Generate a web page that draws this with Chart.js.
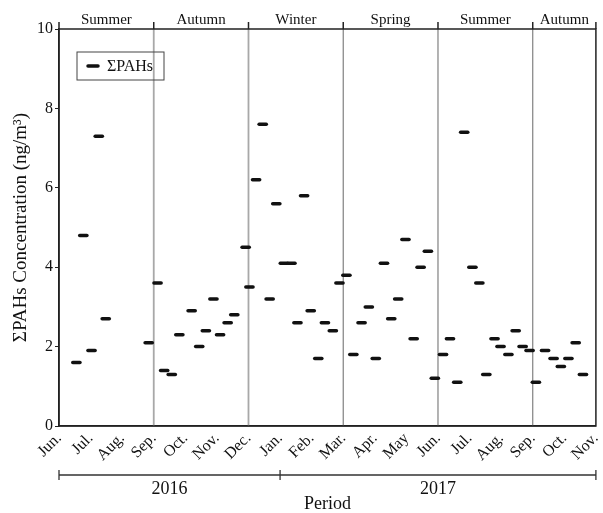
<!DOCTYPE html>
<html>
<head>
<meta charset="utf-8">
<script src="https://cdn.jsdelivr.net/npm/chart.js@4.4.1/dist/chart.umd.min.js"></script>
<style>
  html, body { margin: 0; padding: 0; background: #fff; }
  #wrap { width: 603px; height: 513px; }
</style>
</head>
<body>
<div id="wrap"><canvas id="grafico-pahs"></canvas></div>
<script>
// month index 0 = Jun. 2016 ... 17 = Nov. 2017
const monthLabels = ['Jun.', 'Jul.', 'Aug.', 'Sep.', 'Oct.', 'Nov.', 'Dec.', 'Jan.', 'Feb.',
    'Mar.', 'Apr.', 'May', 'Jun.', 'Jul.', 'Aug.', 'Sep.', 'Oct.', 'Nov.'];
const seasonNames = ['Summer', 'Autumn', 'Winter', 'Spring', 'Summer', 'Autumn'];
const seasonBounds = [0, 3, 6, 9, 12, 15, 17];
const yearNames = ['2016', '2017'];
const yearBounds = [0, 7, 17];
const yTicks = [0, 2, 4, 6, 8, 10];

// sampling time (month index) and ΣPAHs (ng/m3)
const sampleMonth = [0.55, 0.77, 1.03, 1.26, 1.48, 2.84, 3.12, 3.33, 3.57, 3.81, 4.20, 4.44,
    4.65, 4.89, 5.10, 5.34, 5.55, 5.91, 6.03, 6.24, 6.45, 6.67, 6.88, 7.12, 7.36, 7.55,
    7.76, 7.97, 8.21, 8.42, 8.67, 8.88, 9.10, 9.32, 9.58, 9.81, 10.03, 10.29, 10.52,
    10.74, 10.97, 11.23, 11.45, 11.68, 11.90, 12.16, 12.38, 12.61, 12.83, 13.09, 13.31,
    13.53, 13.79, 13.98, 14.23, 14.46, 14.68, 14.90, 15.10, 15.39, 15.66, 15.89, 16.13,
    16.36, 16.59];
const pahValues = [1.6, 4.8, 1.9, 7.3, 2.7, 2.1, 3.6, 1.4, 1.3, 2.3, 2.9, 2.0,
    2.4, 3.2, 2.3, 2.6, 2.8, 4.5, 3.5, 6.2, 7.6, 3.2, 5.6, 4.1, 4.1, 2.6,
    5.8, 2.9, 1.7, 2.6, 2.4, 3.6, 3.8, 1.8, 2.6, 3.0, 1.7, 4.1, 2.7,
    3.2, 4.7, 2.2, 4.0, 4.4, 1.2, 1.8, 2.2, 1.1, 7.4, 4.0, 3.6,
    1.3, 2.2, 2.0, 1.8, 2.4, 2.0, 1.9, 1.1, 1.9, 1.7, 1.5, 1.7,
    2.1, 1.3];

const serif = 'Liberation Serif, Times New Roman, serif';

const decor = {
    id: 'decor',
    beforeDatasetsDraw(chart) {
        const {ctx, chartArea: a, scales: {x}} = chart;
        ctx.save();
        seasonBounds.slice(1, -1).forEach((b, i) => {
            const px = x.getPixelForValue(b);
            // the two 2016 dividers are paler in the original figure
            ctx.strokeStyle = i < 2 ? '#a8a8a8' : '#808080';
            ctx.lineWidth = i < 2 ? 1.8 : 1.2;
            ctx.beginPath();
            ctx.moveTo(px, a.top);
            ctx.lineTo(px, a.bottom);
            ctx.stroke();
        });
        ctx.restore();
    },
    beforeDatasetDraw(chart) {
        chart.ctx.lineCap = 'round';
    },
    afterDatasetDraw(chart) {
        chart.ctx.lineCap = 'butt';
    },
    afterDraw(chart) {
        const {ctx, chartArea: a, scales: {x}} = chart;
        ctx.save();
        ctx.strokeStyle = '#222';
        ctx.lineWidth = 1.5;
        ctx.strokeRect(a.left, a.top, a.right - a.left, a.bottom - a.top);

        // top season ticks and names
        seasonBounds.forEach(b => {
            const px = x.getPixelForValue(b);
            ctx.beginPath();
            ctx.moveTo(px, a.top);
            ctx.lineTo(px, a.top - 7);
            ctx.stroke();
        });
        ctx.fillStyle = '#111';
        ctx.font = '15px ' + serif;
        ctx.textAlign = 'center';
        ctx.textBaseline = 'middle';
        seasonNames.forEach((s, i) => {
            const mid = (seasonBounds[i] + seasonBounds[i + 1]) / 2;
            ctx.fillText(s, x.getPixelForValue(mid), a.top - 9);
        });

        // year bracket
        const yb = a.bottom + 49;
        ctx.lineWidth = 1.3;
        ctx.strokeStyle = '#333';
        ctx.beginPath();
        ctx.moveTo(x.getPixelForValue(yearBounds[0]), yb);
        ctx.lineTo(x.getPixelForValue(yearBounds[yearBounds.length - 1]), yb);
        yearBounds.forEach(b => {
            const px = x.getPixelForValue(b);
            ctx.moveTo(px, yb - 5);
            ctx.lineTo(px, yb + 5);
        });
        ctx.stroke();
        ctx.font = '18px ' + serif;
        yearNames.forEach((yr, i) => {
            const mid = (yearBounds[i] + yearBounds[i + 1]) / 2;
            ctx.fillText(yr, x.getPixelForValue(mid), yb + 14);
        });
        ctx.fillText('Period', (a.left + a.right) / 2, yb + 29);

        // legend box
        const lx = a.left + 18, ly = a.top + 23;
        ctx.lineWidth = 1;
        ctx.strokeStyle = '#444';
        ctx.strokeRect(lx, ly, 87, 28);
        ctx.strokeStyle = '#111';
        ctx.lineWidth = 3.5;
        ctx.lineCap = 'round';
        ctx.beginPath();
        ctx.moveTo(lx + 11, ly + 14);
        ctx.lineTo(lx + 21, ly + 14);
        ctx.stroke();
        ctx.font = '16px ' + serif;
        ctx.textAlign = 'left';
        ctx.fillText(chart.data.datasets[0].label, lx + 30, ly + 15);
        ctx.restore();
    }
};

const ctx = document.getElementById('grafico-pahs');
new Chart(ctx, {
    type: 'scatter',
    data: {
        datasets: [{
            label: 'ΣPAHs',
            data: sampleMonth.map((m, i) => ({x: m, y: pahValues[i]})),
            pointStyle: 'line',
            pointRadius: 3.6,
            pointHoverRadius: 3.6,
            borderWidth: 3.5,
            pointBorderWidth: 3.5,
            borderColor: '#111',
            backgroundColor: '#111'
        }]
    },
    options: {
        responsive: true,
        maintainAspectRatio: false,
        animation: false,
        layout: {
            padding: {top: 29, right: 0, bottom: 0, left: 0}
        },
        plugins: {
            legend: {display: false},
            tooltip: {enabled: false}
        },
        scales: {
            x: {
                type: 'linear',
                min: 0,
                max: 17,
                afterFit: s => {
                    s.height = 87;
                    s.paddingLeft = 0;
                    s.paddingRight = 0;
                },
                afterBuildTicks: s => {
                    s.ticks = monthLabels.map((l, i) => ({value: i}));
                },
                grid: {display: false, drawTicks: false},
                border: {display: true, color: '#222', width: 1.5},
                ticks: {
                    autoSkip: false,
                    minRotation: 45,
                    maxRotation: 45,
                    padding: 3,
                    color: '#111',
                    font: {family: serif, size: 16},
                    callback: v => monthLabels[v]
                }
            },
            y: {
                min: 0,
                max: 10,
                afterFit: s => { s.width = 59; },
                afterBuildTicks: s => {
                    s.ticks = yTicks.map(v => ({value: v}));
                },
                grid: {display: true, drawOnChartArea: false, drawTicks: true, tickLength: 4, color: '#222'},
                border: {display: true, color: '#222', width: 1.5},
                ticks: {
                    padding: 2,
                    color: '#111',
                    font: {family: serif, size: 16}
                },
                title: {
                    display: true,
                    text: 'ΣPAHs Concentration (ng/m³)',
                    color: '#111',
                    font: {family: serif, size: 19},
                    padding: {top: 10, bottom: 0}
                }
            }
        }
    },
    plugins: [decor]
});
</script>
</body>
</html>
